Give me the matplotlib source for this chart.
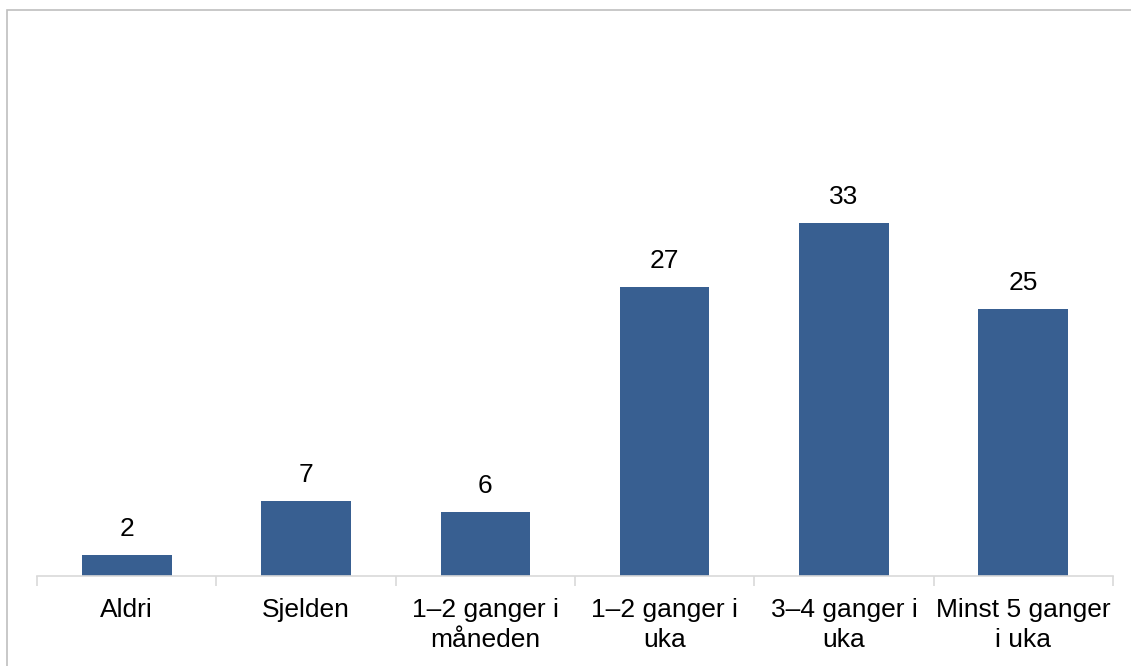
import matplotlib
matplotlib.use("Agg")
import matplotlib.pyplot as plt
from matplotlib.patches import Rectangle

categories = ["Aldri", "Sjelden", "1–2 ganger i\nmåneden", "1–2 ganger i\nuka",
              "3–4 ganger i\nuka", "Minst 5 ganger\ni uka"]
values = [2, 7, 6, 27, 33, 25]

W, H = 1131, 666
plt.rcParams["font.family"] = ["Liberation Sans", "DejaVu Sans"]

fig = plt.figure(figsize=(W / 100, H / 100), dpi=100)
ax = fig.add_axes([37 / W, 90 / H, (1113 - 37) / W, 428 / H])

x = list(range(len(categories)))
ax.bar(x, values, width=0.5, color="#385F91")
for xi, v in zip(x, values):
    ax.annotate(str(v), (xi, v), xytext=(0, 10), textcoords="offset points",
                ha="center", va="bottom", fontsize=19, color="#000000")

ax.set_xlim(-0.5, len(categories) - 0.5)
ax.set_ylim(0, 40)
ax.set_yticks([])
ax.set_xticks([i - 0.5 for i in range(len(categories) + 1)], minor=False)
ax.set_xticklabels([])
ax.set_xticks(x, minor=True)
ax.set_xticklabels(categories, minor=True, fontsize=19, linespacing=1.3)
ax.tick_params(axis="x", which="major", length=7, color="#D9D9D9", width=1.2)
ax.tick_params(axis="x", which="minor", length=0, pad=16)
for s in ["top", "right", "left"]:
    ax.spines[s].set_visible(False)
ax.spines["bottom"].set_color("#D9D9D9")
ax.spines["bottom"].set_linewidth(1.2)

# outer chart border (extends past the right and bottom edge)
fig.patches.append(Rectangle((7 / W, -0.1), 1.2, 1 - 10 / H + 0.1,
                             transform=fig.transFigure, fill=False,
                             edgecolor="#BFBFBF", linewidth=1.2))

fig.savefig("out.png", dpi=100)
